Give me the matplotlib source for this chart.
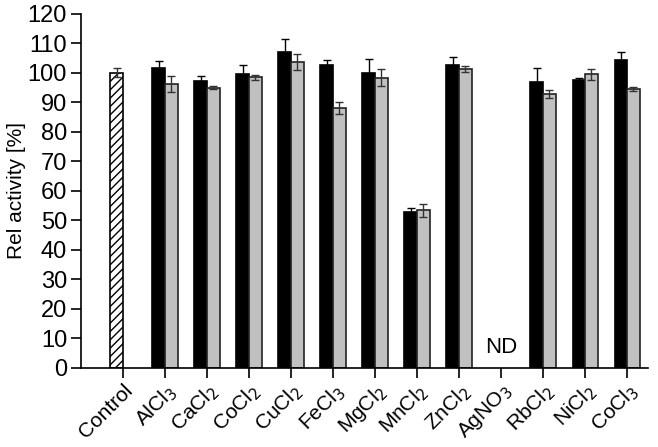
import numpy as np
import matplotlib.pyplot as plt

plt.rcParams['font.family'] = ['Liberation Sans', 'DejaVu Sans']

labels = ['Control', r'AlCl$_3$', r'CaCl$_2$', r'CoCl$_2$', r'CuCl$_2$', r'FeCl$_3$',
          r'MgCl$_2$', r'MnCl$_2$', r'ZnCl$_2$', r'AgNO$_3$', r'RbCl$_2$', r'NiCl$_2$', r'CoCl$_3$']

control_val = 100.0
control_err = 1.5

# first series (black), second series (grey); AgNO3 not determined
black_vals = [101.8, 97.3, 99.5, 107.0, 102.5, 99.8, 53.0, 102.8, np.nan, 96.9, 97.6, 104.3]
black_err = [2.3, 1.5, 3.2, 4.6, 1.7, 5.0, 1.3, 2.5, 0, 4.6, 0.7, 2.7]
grey_vals = [96.2, 95.0, 98.5, 103.7, 88.0, 98.4, 53.4, 101.4, np.nan, 92.9, 99.5, 94.5]
grey_err = [2.6, 0.5, 0.8, 2.6, 2.0, 2.8, 2.1, 1.0, 0, 1.4, 1.9, 0.7]

fig = plt.figure(figsize=(6.58, 4.47), dpi=100)
ax = fig.add_axes([0.123, 0.177, 0.862, 0.792])

w = 0.3
x = np.arange(1, len(labels))

ax.bar(0 - w / 2, control_val, w, yerr=control_err, color='white', edgecolor='black',
       hatch='////', linewidth=1.2,
       error_kw=dict(ecolor='#333333', elinewidth=1.0, capsize=3, capthick=1.0))
ax.bar(x - w / 2, black_vals, w, yerr=black_err, color='black', edgecolor='black',
       linewidth=1.2,
       error_kw=dict(ecolor='black', elinewidth=1.0, capsize=3, capthick=1.0))
ax.bar(x + w / 2, grey_vals, w, yerr=grey_err, color='#c0c0c0', edgecolor='#222222',
       linewidth=1.2,
       error_kw=dict(ecolor='#333333', elinewidth=1.0, capsize=3, capthick=1.0))

ax.text(9, 7, 'ND', ha='center', va='center', fontsize=16)

ax.set_xlim(-1, 12.5)
ax.set_ylim(0, 120)
ax.set_yticks(np.arange(0, 121, 10))
ax.set_xticks(np.arange(len(labels)))
ax.set_xticklabels(labels, rotation=45, ha='right', rotation_mode='anchor', fontsize=15)
ax.tick_params(axis='y', labelsize=17, direction='out', length=7, width=1.2, pad=3)
ax.tick_params(axis='x', direction='out', length=7, width=1.2, pad=2)
ax.set_ylabel('Rel activity [%]', fontsize=15)
ax.yaxis.set_label_coords(-0.097, 0.5)
for s in ['top', 'right']:
    ax.spines[s].set_visible(False)
for s in ['left', 'bottom']:
    ax.spines[s].set_linewidth(1.2)

fig.savefig('out.png', dpi=100)
